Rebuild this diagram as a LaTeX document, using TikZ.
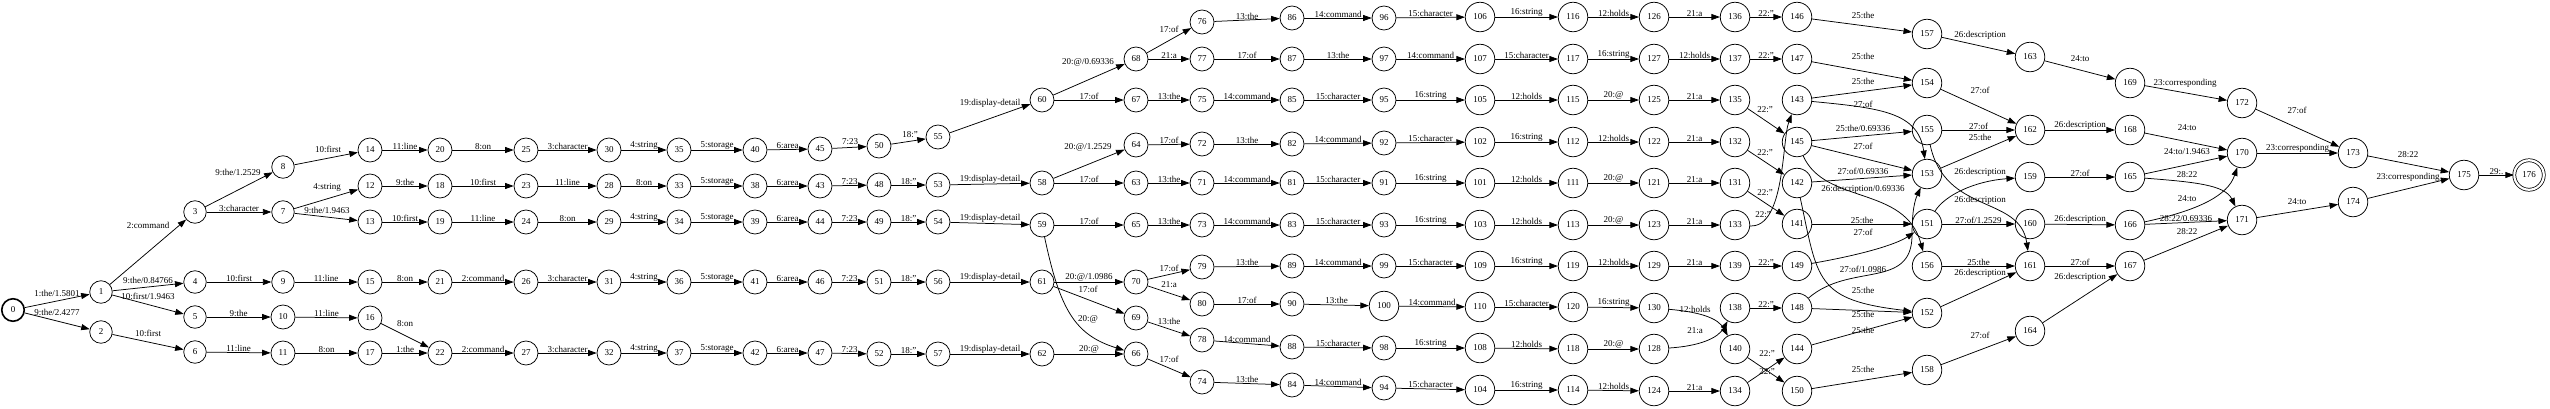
\documentclass[tikz,border=0pt]{standalone}
\usepackage{fontspec}
\setmainfont{Liberation Serif}
\usetikzlibrary{arrows.meta}
\newcommand\gfont{\fontsize{9}{10}\selectfont}
\tikzset{
  st/.style={circle, draw, inner sep=0pt, line width=0.75pt, font=\gfont},
  e/.style={line width=0.75pt, -{Triangle[length=8.5pt,width=6pt]}},
  lab/.style={font=\gfont, inner sep=0.5pt}
}
\newcommand\mkstate[3]{\ifnum#1<10 \def\stsz{22.5}\else\ifnum#1<100 \def\stsz{24}\else\def\stsz{29.5}\fi\fi\node[st,minimum size=\stsz pt] (n#1) at (#2,#3) {#1};}
\newcommand\hed[3]{\draw[e] (n#1) -- node[lab,above]{#3} (n#2);}
\newcommand\led[5]{\draw[e] (n#1) -- (n#2) node[lab] at (#4,#5) {#3};}
\begin{document}
\begin{tikzpicture}[x=1pt,y=-1pt]
\useasboundingbox (0,0) rectangle (2550,408);
% states
\node[st, minimum size=22.5pt, line width=1.6pt] (n0) at (13,310) {0};
\foreach \n/\y in {1/292,2/332} {\mkstate{\n}{101}{\y}}
\foreach \n/\y in {3/212,4/282,5/317,6/352} {\mkstate{\n}{195}{\y}}
\foreach \n/\y in {8/167,7/212,9/282,10/317,11/353} {\mkstate{\n}{283}{\y}}
\foreach \n/\y in {14/150,12/186,13/222,15/282,16/318,17/353} {\mkstate{\n}{370}{\y}}
\foreach \n/\y in {20/150,18/186,19/222,21/282,22/353} {\mkstate{\n}{440}{\y}}
\foreach \n/\y in {25/150,23/186,24/222,26/282,27/353} {\mkstate{\n}{526}{\y}}
\foreach \n/\y in {30/150,28/186,29/222,31/282,32/353} {\mkstate{\n}{609}{\y}}
\foreach \n/\y in {35/150,33/186,34/222,36/282,37/353} {\mkstate{\n}{679}{\y}}
\foreach \n/\y in {40/150,38/186,39/222,41/282,42/353} {\mkstate{\n}{755}{\y}}
\foreach \n/\y in {45/149,43/186,44/222,46/282,47/353} {\mkstate{\n}{820}{\y}}
\foreach \n/\y in {50/146,48/185,49/222,51/282,52/354} {\mkstate{\n}{879}{\y}}
\foreach \n/\y in {55/137,53/185,54/222,56/282,57/354} {\mkstate{\n}{938}{\y}}
\foreach \n/\y in {60/100,58/183,59/225,61/282,62/354} {\mkstate{\n}{1042}{\y}}
\foreach \n/\y in {68/59,67/100,64/145,63/183,65/225,70/282,69/318,66/354} {\mkstate{\n}{1136}{\y}}
\foreach \n/\y in {76/22,77/59,75/100,72/144,71/183,73/225,79/267,80/304,78/340,74/382} {\mkstate{\n}{1202}{\y}}
\foreach \n/\y in {86/18,87/59,85/100,82/144,81/183,83/225,89/266,90/304,88/347,84/385} {\mkstate{\n}{1292}{\y}}
\foreach \n/\y in {96/18,97/59,95/100,92/143,91/183,93/225,99/266,100/306,98/348,94/388} {\mkstate{\n}{1384}{\y}}
\foreach \n/\y in {106/17,107/59,105/100,102/142,101/183,103/225,109/266,110/307,108/348,104/390} {\mkstate{\n}{1480}{\y}}
\foreach \n/\y in {116/17,117/59,115/100,112/142,111/183,113/225,119/266,120/307,118/349,114/390} {\mkstate{\n}{1573}{\y}}
\foreach \n/\y in {126/17,127/59,125/100,122/142,121/183,123/225,129/266,130/308,128/349,124/391} {\mkstate{\n}{1654}{\y}}
\foreach \n/\y in {136/17,137/59,135/100,132/142,131/183,133/225,139/266,138/308,140/349,134/391} {\mkstate{\n}{1735}{\y}}
\foreach \n/\y in {146/17,147/59,143/100,145/142,142/183,141/224,149/266,148/308,144/349,150/391} {\mkstate{\n}{1797}{\y}}
\foreach \n/\y in {157/34,154/83,155/130,153/174,151/224,156/266,152/313,158/370} {\mkstate{\n}{1927}{\y}}
\foreach \n/\y in {163/57,162/130,159/177,160/224,161/266,164/331} {\mkstate{\n}{2030}{\y}}
\foreach \n/\y in {169/83,168/130,165/177,166/225,167/266} {\mkstate{\n}{2130}{\y}}
\foreach \n/\y in {172/103,170/153,171/220} {\mkstate{\n}{2242}{\y}}
\foreach \n/\y in {173/153,174/202} {\mkstate{\n}{2353}{\y}}
\mkstate{175}{2464}{175}
\node[st, minimum size=29.5pt, double, double distance=2.2pt] (n176) at (2529,175) {176};
% edges: left part
\led{0}{1}{1:the/1.5801}{57}{293}
\led{0}{2}{9:the/2.4277}{57}{312}
\led{1}{3}{2:command}{148}{225}
\led{1}{4}{9:the/0.84766}{148}{280}
\led{1}{5}{10:first/1.9463}{148}{296}
\led{2}{6}{10:first}{148}{333}
\led{3}{8}{9:the/1.2529}{238}{172}
\hed{3}{7}{3:character}
\hed{4}{9}{10:first}
\hed{5}{10}{9:the}
\hed{6}{11}{11:line}
\led{8}{14}{10:first}{328}{149}
\led{7}{12}{4:string}{327}{187}
\led{7}{13}{9:the/1.9463}{327}{210}
\hed{9}{15}{11:line}
\hed{10}{16}{11:line}
\hed{11}{17}{8:on}
\hed{14}{20}{11:line}
\hed{12}{18}{9:the}
\hed{13}{19}{10:first}
\hed{15}{21}{8:on}
\led{16}{22}{8:on}{405}{324}
\hed{17}{22}{1:the}
% rows
\hed{20}{25}{8:on}
\hed{25}{30}{3:character}
\hed{30}{35}{4:string}
\hed{35}{40}{5:storage}
\hed{40}{45}{6:area}
\led{45}{50}{7:23}{850}{142}
\hed{18}{23}{10:first}
\hed{23}{28}{11:line}
\hed{28}{33}{8:on}
\hed{33}{38}{5:storage}
\hed{38}{43}{6:area}
\hed{43}{48}{7:23}
\hed{19}{24}{11:line}
\hed{24}{29}{8:on}
\hed{29}{34}{4:string}
\hed{34}{39}{5:storage}
\hed{39}{44}{6:area}
\hed{44}{49}{7:23}
\hed{21}{26}{2:command}
\hed{26}{31}{3:character}
\hed{31}{36}{4:string}
\hed{36}{41}{5:storage}
\hed{41}{46}{6:area}
\hed{46}{51}{7:23}
\hed{22}{27}{2:command}
\hed{27}{32}{3:character}
\hed{32}{37}{4:string}
\hed{37}{42}{5:storage}
\hed{42}{47}{6:area}
\hed{47}{52}{7:23}
\led{50}{55}{18:"}{910}{135}
\hed{48}{53}{18:"}
\hed{49}{54}{18:"}
\hed{51}{56}{18:"}
\hed{52}{57}{18:"}
\led{55}{60}{19:display-detail}{990}{103}
\hed{53}{58}{19:display-detail}
\hed{54}{59}{19:display-detail}
\hed{56}{61}{19:display-detail}
\hed{57}{62}{19:display-detail}
\led{60}{68}{20:@/0.69336}{1088}{62}
\hed{60}{67}{17:of}
\led{68}{76}{17:of}{1169}{29}
\hed{68}{77}{21:a}
\hed{67}{75}{13:the}
\led{58}{64}{20:@/1.2529}{1088}{147}
\hed{58}{63}{17:of}
\hed{64}{72}{17:of}
\hed{63}{71}{13:the}
\hed{59}{65}{17:of}
\hed{65}{73}{13:the}
\draw[e] (n59) .. controls (1060,310) and (1075,335) .. (n66) node[lab] at (1088,319) {20:@};
\hed{61}{70}{20:@/1.0986}
\led{61}{69}{17:of}{1088}{289}
\led{70}{79}{17:of}{1169}{268}
\led{70}{80}{21:a}{1169}{285}
\led{69}{78}{13:the}{1169}{321}
\hed{62}{66}{20:@}
\led{66}{74}{17:of}{1169}{359}
\hed{76}{86}{13:the}
\hed{77}{87}{17:of}
\hed{75}{85}{14:command}
\hed{72}{82}{13:the}
\hed{71}{81}{14:command}
\hed{73}{83}{14:command}
\hed{79}{89}{13:the}
\hed{80}{90}{17:of}
\hed{78}{88}{14:command}
\hed{74}{84}{13:the}
\hed{86}{96}{14:command}
\hed{87}{97}{13:the}
\hed{85}{95}{15:character}
\hed{82}{92}{14:command}
\hed{81}{91}{15:character}
\hed{83}{93}{15:character}
\hed{89}{99}{14:command}
\hed{90}{100}{13:the}
\hed{88}{98}{15:character}
\hed{84}{94}{14:command}
\hed{96}{106}{15:character}
\hed{97}{107}{14:command}
\hed{95}{105}{16:string}
\hed{92}{102}{15:character}
\hed{91}{101}{16:string}
\hed{93}{103}{16:string}
\hed{99}{109}{15:character}
\hed{100}{110}{14:command}
\hed{98}{108}{16:string}
\hed{94}{104}{15:character}
\hed{106}{116}{16:string}
\hed{107}{117}{15:character}
\hed{105}{115}{12:holds}
\hed{102}{112}{16:string}
\hed{101}{111}{12:holds}
\hed{103}{113}{12:holds}
\hed{109}{119}{16:string}
\hed{110}{120}{15:character}
\hed{108}{118}{12:holds}
\hed{104}{114}{16:string}
\hed{116}{126}{12:holds}
\hed{117}{127}{16:string}
\hed{115}{125}{20:@}
\hed{112}{122}{12:holds}
\hed{111}{121}{20:@}
\hed{113}{123}{20:@}
\hed{119}{129}{12:holds}
\hed{120}{130}{16:string}
\hed{118}{128}{20:@}
\hed{114}{124}{12:holds}
\hed{126}{136}{21:a}
\hed{127}{137}{12:holds}
\hed{125}{135}{21:a}
\hed{122}{132}{21:a}
\hed{121}{131}{21:a}
\hed{123}{133}{21:a}
\hed{129}{139}{21:a}
\draw[e] (n130) .. controls (1700,312) and (1718,318) .. (n140) node[lab] at (1695,309) {12:holds};
\draw[e] (n128) .. controls (1700,346) and (1718,338) .. (n138) node[lab] at (1695,331) {21:a};
\hed{124}{134}{21:a}
% 22:" column
\hed{136}{146}{22:"}
\hed{137}{147}{22:"}
\led{135}{145}{22:"}{1765}{110}
\led{132}{142}{22:"}{1765}{153}
\led{131}{141}{22:"}{1765}{193}
\draw[e] (n133) .. controls (1785,228) and (1782,140) .. (n143) node[lab] at (1763,215) {22:"};
\hed{139}{149}{22:"}
\hed{138}{148}{22:"}
\led{140}{150}{22:"}{1767}{354}
\led{134}{144}{22:"}{1767}{372}
% 25/27 column
\led{146}{157}{25:the}{1863}{15}
\led{147}{154}{25:the}{1863}{56}
\led{143}{154}{25:the}{1863}{81}
\draw[e] (n143) .. controls (1880,108) and (1918,112) .. (n153) node[lab] at (1863,104) {27:of};
\led{145}{155}{25:the/0.69336}{1863}{128}
\led{145}{153}{27:of}{1863}{146}
\led{142}{153}{27:of/0.69336}{1863}{171}
\draw[e] (n145) .. controls (1825,205) and (1905,185) .. (n156) node[lab] at (1863,189) {26:description/0.69336};
\hed{141}{151}{25:the}
\draw[e] (n149) .. controls (1860,255) and (1895,245) .. (n151) node[lab] at (1863,232) {27:of};
\draw[e] (n148) .. controls (1850,262) and (1912,290) .. (1912,235) .. controls (1912,210) and (1915,200) .. (n153) node[lab] at (1863,269) {27:of/1.0986};
\draw[e] (n142) .. controls (1818,280) and (1815,300) .. (n152) node[lab] at (1863,290) {25:the};
\led{148}{152}{25:the}{1863}{314}
\led{144}{152}{25:the}{1863}{330}
\led{150}{158}{25:the}{1863}{369}
% next columns
\led{157}{163}{26:description}{1980}{35}
\led{154}{162}{27:of}{1980}{90}
\hed{155}{162}{27:of}
\led{153}{162}{25:the}{1980}{137}
\draw[e] (n151) .. controls (1945,195) and (1975,181) .. (n159) node[lab] at (1980,172) {26:description};
\draw[e] (n155) .. controls (1945,215) and (2020,195) .. (n161) node[lab] at (1980,200) {26:description};
\hed{151}{160}{27:of/1.2529}
\hed{156}{161}{25:the}
\led{152}{161}{26:description}{1980}{273}
\led{158}{164}{27:of}{1980}{335}
\led{163}{169}{24:to}{2080}{59}
\hed{162}{168}{26:description}
\hed{159}{165}{27:of}
\hed{160}{166}{26:description}
\hed{161}{167}{27:of}
\led{164}{167}{26:description}{2080}{277}
\led{169}{172}{23:corresponding}{2185}{83}
\led{168}{170}{24:to}{2187}{128}
\led{165}{170}{24:to/1.9463}{2187}{152}
\draw[e] (n165) .. controls (2195,182) and (2225,185) .. (n171) node[lab] at (2187,175) {28:22};
\draw[e] (n166) .. controls (2200,210) and (2228,195) .. (n170) node[lab] at (2187,199) {24:to};
\hed{166}{171}{28:22/0.69336}
\led{167}{171}{28:22}{2187}{232}
\led{172}{173}{27:of}{2297}{110}
\hed{170}{173}{23:corresponding}
\led{171}{174}{24:to}{2297}{202}
\led{173}{175}{28:22}{2408}{155}
\led{174}{175}{23:corresponding}{2408}{177}
\hed{175}{176}{29:.}
\end{tikzpicture}
\end{document}
